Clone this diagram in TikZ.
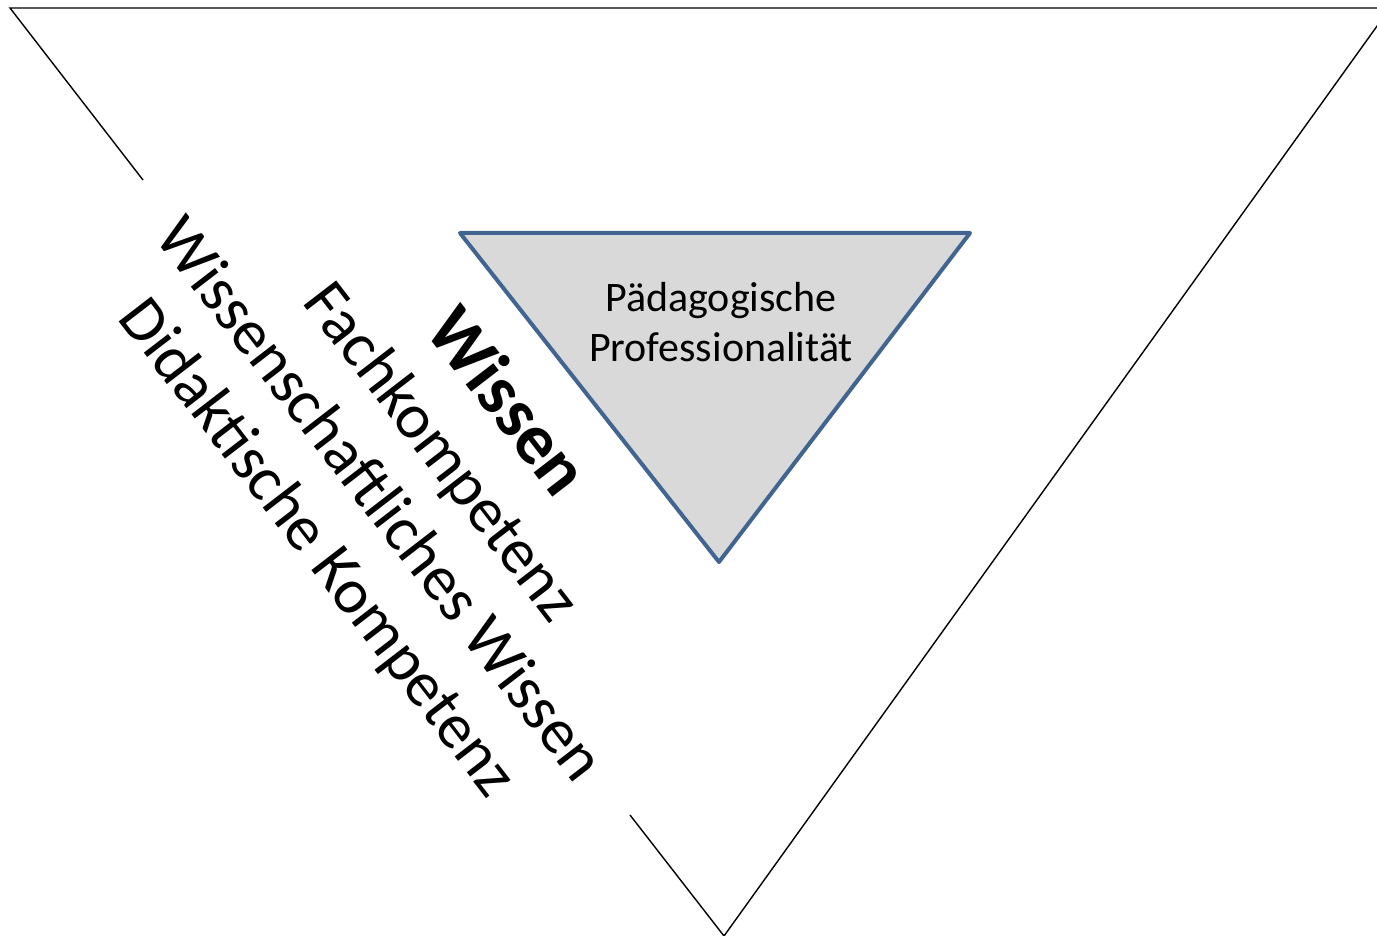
\documentclass[tikz,border=0pt]{standalone}
\usepackage{fontspec}
\setmainfont{Carlito}
\definecolor{innerblue}{RGB}{65,100,145}
\definecolor{innerfill}{RGB}{217,217,217}
\begin{document}
\begin{tikzpicture}[x=1pt,y=-1pt,
  outerline/.style={draw=black,line width=1.4pt},
  innertri/.style={draw=innerblue,fill=innerfill,line width=4pt,line join=round},
  sidelabel/.style={rotate=-52.4,align=center,inner sep=0pt,font=\fontsize{64}{78}\selectfont},
  innerlabel/.style={align=center,inner sep=0pt,font=\fontsize{42}{50}\selectfont}]
\useasboundingbox (0,0) rectangle (1377,936);
\clip (0,0) rectangle (1377,936);
\coordinate (A) at (10,8);
\coordinate (B) at (1390,8);
\coordinate (C) at (724,936);
\coordinate (G1) at (143,180);
\coordinate (G2) at (630,815);
\draw[outerline] (G1) -- (A) -- (B) -- (C) -- (G2);
\coordinate (T1) at (460,233);
\coordinate (T2) at (970,233);
\coordinate (T3) at (719,562);
\draw[innertri] (T1) -- (T2) -- (T3) -- cycle;
\node[innerlabel] (pp) at (721,322) {Pädagogische\\Professionalität};
\node[sidelabel] (side) at (412,475) {{\fontsize{72}{78}\selectfont\bfseries Wissen}\\[2pt]Fachkompetenz\\Wissenschaftliches Wissen\\Didaktische Kompetenz};
\end{tikzpicture}
\end{document}
